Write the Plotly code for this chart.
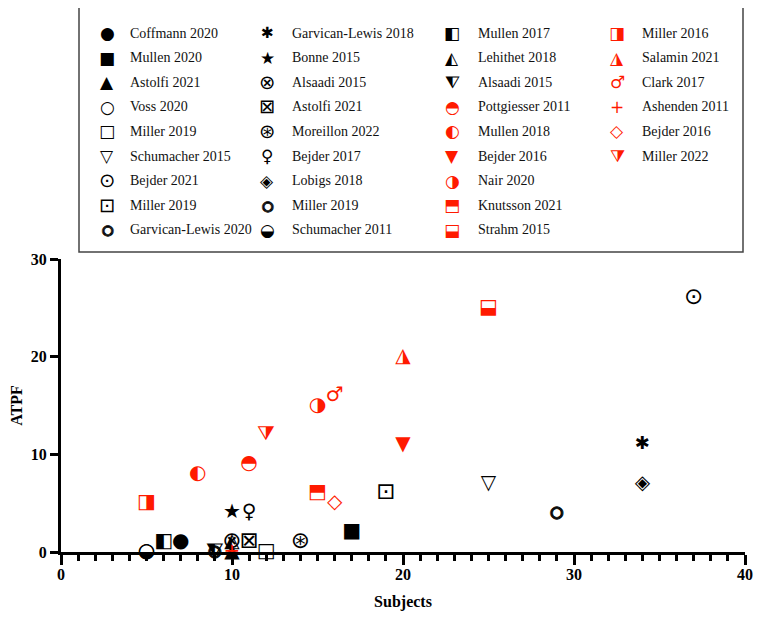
import plotly.graph_objects as go

# study data, in legend order (column by column)
studies = ['Coffmann 2020', 'Mullen 2020', 'Astolfi 2021', 'Voss 2020', 'Miller 2019',
           'Schumacher 2015', 'Bejder 2021', 'Miller 2019', 'Garvican-Lewis 2020',
           'Garvican-Lewis 2018', 'Bonne 2015', 'Alsaadi 2015', 'Astolfi 2021',
           'Moreillon 2022', 'Bejder 2017', 'Lobigs 2018', 'Miller 2019', 'Schumacher 2011',
           'Mullen 2017', 'Lehithet 2018', 'Alsaadi 2015', 'Pottgiesser 2011', 'Mullen 2018',
           'Bejder 2016', 'Nair 2020', 'Knutsson 2021', 'Strahm 2015',
           'Miller 2016', 'Salamin 2021', 'Clark 2017', 'Ashenden 2011', 'Bejder 2016',
           'Miller 2022']
subjects = [7, 17, 10, 5, 12, 25, 37, 19, 9,
            34, 10, 10, 11, 14, 11, 34, 29, 5,
            6, 10, 9, 11, 8, 20, 15, 15, 25,
            5, 20, 16, 10, 16, 12]
atpf = [1, 2, 0, 0, 0, 7, 26, 6, 0,
        11, 4, 1, 1, 1, 4, 7, 4, 0,
        1, 1, 0, 9, 8, 11, 15, 6, 25,
        5, 20, 16, 0, 5, 12]
glyphs = ['●', '■', '▲', '○', '□', '▽', '⊙', '⊡', 'ring',
          '✱', '★', '⊗', '⊠', '⊛', '♀', '◈', 'ring', '◒',
          '◧', '◭', '⧨', '◓', '◐', '▼', '◑', '⬒', '⬓',
          '◨', '◮', '♂', '+', '◇', '⧩']
is_red = [False] * 21 + [True] * 12

BLACK = '#000000'
RED = '#ff1a00'
OFF = 8  # page body margin
W, H = 765 - OFF, 617 - OFF
X0, X1, Y0, Y1 = 61 - OFF, 745 - OFF, 552 - OFF, 259 - OFF  # plot area in pixels
# some glyphs come out small/large in DejaVu Sans
scale = {'⊙': 1.15, '⊡': 1.15, '⊗': 1.15, '⊠': 1.15, '⊛': 1.15, '✱': 0.9, 'ring': 0.75}
THICK = '1px 0 0 #000, -1px 0 0 #000, 0 1px 0 #000, 0 -1px 0 #000'


def px2x(px):
    return (px - OFF - X0) / (X1 - X0)


def px2y(py):
    return (Y0 - (py - OFF)) / (Y0 - Y1)


def glyph_font(g, base, col):
    f = dict(family='DejaVu Sans', size=base * scale.get(g, 1), color=col)
    if g == 'ring':
        f['shadow'] = THICK
    return f


fig = go.Figure()
for i, name in enumerate(studies):
    col = RED if is_red[i] else BLACK
    g = glyphs[i]
    fig.add_trace(go.Scatter(
        x=[subjects[i]], y=[atpf[i]], mode='text', text=['○' if g == 'ring' else g],
        textposition='middle center', name=name, showlegend=False,
        textfont=glyph_font(g, 20, col),
        cliponaxis=False, hoverinfo='name+x+y'))

# legend drawn as a 4-column table, 9 rows per column
sym_x = [107, 267, 452, 617]
txt_x = [128, 290, 476, 640]
annots = []
for i, name in enumerate(studies):
    c, r = divmod(i, 9)
    yy = px2y(33 + 24.6 * r)
    col = RED if is_red[i] else BLACK
    g = glyphs[i]
    annots.append(dict(x=px2x(sym_x[c]), y=yy, xref='paper', yref='paper',
                       text='○' if g == 'ring' else g,
                       showarrow=False, xanchor='center', yanchor='middle',
                       font=glyph_font(g, 17, col)))
    annots.append(dict(x=px2x(txt_x[c]), y=yy, xref='paper', yref='paper', text=name,
                       showarrow=False, xanchor='left', yanchor='middle',
                       font=dict(family='Liberation Serif', size=14, color='#111')))

fig.update_layout(
    width=W, height=H,
    margin=dict(l=X0, r=W - X1, t=Y1, b=H - Y0, autoexpand=False),
    paper_bgcolor='white', plot_bgcolor='white',
    annotations=annots,
    shapes=[dict(type='rect', xref='paper', yref='paper',
                 x0=px2x(79), x1=px2x(743), y0=px2y(252), y1=px2y(3),
                 line=dict(color='#444', width=1.5))],
    font=dict(family='Liberation Serif', color='black'),
)
fig.update_xaxes(
    range=[0, 40], showgrid=False, zeroline=False, automargin=False,
    showline=True, linecolor='black', linewidth=3,
    tickmode='array', tickvals=[0, 10, 20, 30, 40],
    ticks='outside', ticklen=10, tickwidth=2.5, tickcolor='black',
    minor=dict(dtick=1, ticks='outside', ticklen=6, tickwidth=2.5, tickcolor='black'),
    tickfont=dict(family='Liberation Serif', size=16, weight='bold'), ticklabelstandoff=-4,
    title=dict(text='<b>Subjects</b>', font=dict(family='Liberation Serif', size=16), standoff=14),
)
fig.update_yaxes(
    range=[0, 30], showgrid=False, zeroline=False, automargin=False,
    showline=True, linecolor='black', linewidth=3,
    tickmode='array', tickvals=[0, 10, 20, 30],
    ticks='outside', ticklen=8, tickwidth=2.5, tickcolor='black',
    tickfont=dict(family='Liberation Serif', size=16, weight='bold'),
    title=dict(text='<b>ATPF</b>', font=dict(family='Liberation Serif', size=16), standoff=12),
)

fig.write_html('out.html')
